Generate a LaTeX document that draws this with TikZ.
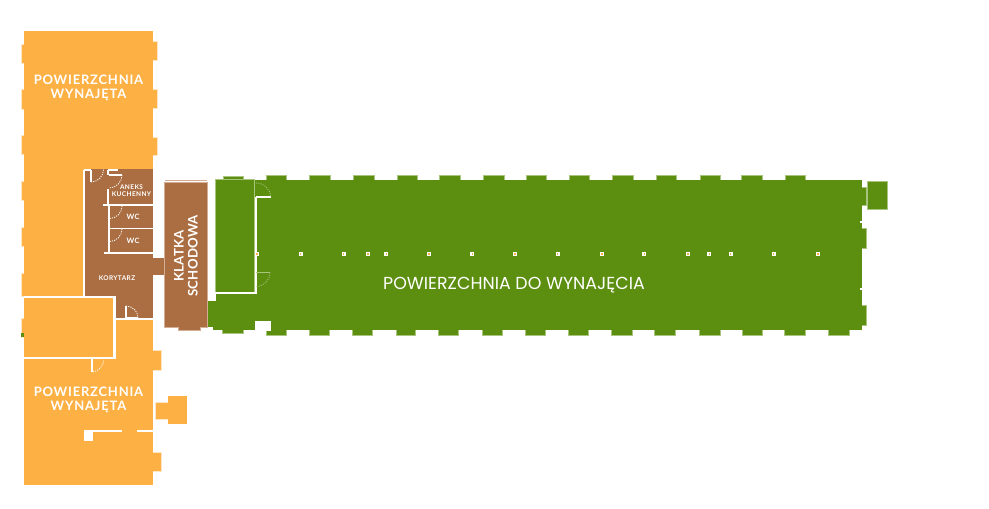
\documentclass[tikz,border=0pt]{standalone}
\usepackage{fontspec}
\setmainfont{Lato}
\newfontfamily\roomfont[LetterSpace=6]{Lato Bold}
\newfontfamily\stairfont[LetterSpace=2]{Lato Bold}
\newfontfamily\greenfont{Poppins}
\definecolor{rented}{HTML}{FDB043}
\definecolor{rentededge}{HTML}{FEE6C4}
\definecolor{corridor}{HTML}{AB6E42}
\definecolor{corridoredge}{HTML}{D3AE94}
\definecolor{vacant}{HTML}{5C8E10}
\definecolor{vacantedge}{HTML}{A9C47C}
\tikzset{
  wall/.style={white,line width=1.2pt},
  thinwall/.style={white,line width=0.6pt},
  swing/.style={white,line width=0.5pt,dash pattern=on 0.6pt off 0.7pt},
  vacantswing/.style={vacantedge,line width=0.5pt,dash pattern=on 0.6pt off 0.7pt},
  rentedtab/.style={fill=rented,draw=rentededge,line width=0.5pt},
  vacanttab/.style={fill=vacant,draw=vacantedge,line width=0.4pt}
}
\begin{document}
\begin{tikzpicture}[x=0.02cm,y=-0.02cm]
\useasboundingbox (0,0) rectangle (989,508);

% rented wing, tabs first
\foreach \a/\b in {44/63,89/109,135/154,181/200,227/246,273/296,318/337}
  \path [rentedtab] (21,\a) rectangle (30,\b);
\foreach \a/\b in {41/60,89/108,137/155}
  \path [rentedtab] (157,\a) rectangle (140,\b);
\foreach \a/\b in {350/370,452/471}
  \path [rentedtab] (161,\a) rectangle (140,\b);
\fill [vacant] (21,333) rectangle (24,337);
\fill [rented] (24,31) rectangle (153,485);
\path [rentedtab] (155,402) rectangle (170,419);
\fill [rented] (168,396) rectangle (187,424);

% corridor block
\fill [corridor] (84,169) rectangle (153,319);
\fill [corridor] (150,258) rectangle (167,275);
\path [fill=corridor,draw=corridoredge,line width=0.4pt] (164.5,182.5) -- (207.5,182.5) -- (207.5,327) -- (200,327) -- (200,330.5) -- (178,330.5) -- (178,327) -- (164.5,327) -- cycle;
\draw [corridoredge,line width=0.5pt] (165,180.5) -- (207,180.5);
\fill [rented] (24,297) rectangle (114.5,358);

% corridor walls
\draw [wall] (84,169.5) -- (84,297);
\draw [wall] (84,170) -- (91,170);
\draw [wall] (108,170) -- (118,170);
\draw [wall] (108,170) -- (108,175);
\draw [wall] (108,189) -- (108,205);
\draw [wall] (103,205) -- (153,205);
\draw [wall] (109,205) -- (109,253);
\draw [thinwall] (109,228.5) -- (153,228.5);
\draw [wall] (104,253) -- (153,253);
\draw [wall] (114.5,319) -- (153,319);
\draw [wall] (24,297) -- (114.5,297) -- (114.5,358) -- (24,358);
\draw [wall] (84,431) -- (122,431);
\draw [wall] (137,431) -- (153,431);
\fill [white] (84,431) rectangle (93,441);

% doors in the corridor block
\draw [thinwall] (91,170) -- (91,182);
\draw [swing] (91,182) arc (90:0:12.5);
\draw [thinwall] (108.5,175) -- (122,175);
\draw [swing] (122,175) arc (0:90:13);
\draw [thinwall] (109.5,206) -- (109.5,219);
\draw [swing] (122,206) arc (0:90:12.5);
\draw [thinwall] (109.5,229) -- (109.5,242);
\draw [swing] (122,229) arc (0:90:12.5);
\draw [thinwall] (126,318) -- (126,306);
\draw [thinwall] (126,318) -- (138,318);
\draw [swing] (126,306) arc (-90:0:12);
\draw [thinwall] (92,358) -- (92,372);
\draw [thinwall] (92,358) -- (104,358);
\draw [swing] (104,358) arc (0:90:12 and 14);

% vacant wing, tabs first
\foreach \a/\b in {266/286,309/330,353/374,397/417,439/460,483/504,526/546,569/589,612/633,656/676,700/720,741/762,785/805}
  \path [vacanttab] (\a,175.5) rectangle (\b,185);
\foreach \a/\b in {266/286,309/329,352/372,396/415,438/458,482/502,525/545,568/588,611/632,654/675,699/720,742/762,784/805,828/849}
  \path [vacanttab] (\a,335) rectangle (\b,325);
\foreach \a/\b in {187/205,228/248,305/325}
  \path [vacanttab] (866,\a) rectangle (855,\b);
\path [vacanttab] (223,176) rectangle (243,185);
\path [vacanttab] (222,333) rectangle (243,325);
\path [vacanttab] (867.5,181) rectangle (887,209);
\fill [vacant] (255,180) rectangle (862,330);
\fill [vacant] (216,179) rectangle (254,292);
\fill [vacant] (208,301) rectangle (257,327);
\fill [vacant] (216,292) rectangle (257,301);
\fill [vacant] (213,327) rectangle (270,330);
\fill [white] (255,321) rectangle (271,331);
\fill [white] (860,221) rectangle (862,223);
\fill [white] (860,288) rectangle (862,290);

% walls and doors of the vacant wing
\draw [vacantedge,line width=0.5pt] (215.5,292) -- (215.5,179) -- (254.5,179) -- (254.5,292);
\draw [wall] (256,197) -- (256,272.5);
\draw [wall] (256,272.5) -- (256,293) -- (215,293);
\draw [white,line width=0.6pt] (256,197) -- (271,197);
\draw [vacantedge,line width=0.7pt] (256,272.5) -- (270,272.5);
\draw [vacantswing] (256,183) arc (-90:0:14.5 and 14);
\draw [vacantswing] (270,272.5) arc (0:90:14);

% posts
\foreach \a in {257,300.7,343.7,368,386.3,429,472.3,515,557.7,602,644.3,688,709.3,730.7,773.7,818} {
  \fill [white] (\a-2,252) rectangle (\a+2,256);
  \fill [rented] (\a-0.7,253.3) rectangle (\a+0.7,254.7);
}

% labels
\path (88.5,87.5) node (rentedup) [align=center,text=white,inner sep=0pt,font=\roomfont\fontsize{7.4}{8}\selectfont] {POWIERZCHNIA\\WYNAJĘTA};
\path (88.5,399.5) node (renteddown) [align=center,text=white,inner sep=0pt,font=\roomfont\fontsize{7.4}{8}\selectfont] {POWIERZCHNIA\\WYNAJĘTA};
\path (131.5,190.7) node (kitchen) [align=center,text=white,inner sep=0pt,font=\roomfont\fontsize{3.7}{3.8}\selectfont] {ANEKS\\KUCHENNY};
\path (133,216.5) node (wcone) [text=white,inner sep=0pt,font=\roomfont\fontsize{4.2}{5}\selectfont] {WC};
\path (133,240.5) node (wctwo) [text=white,inner sep=0pt,font=\roomfont\fontsize{4.2}{5}\selectfont] {WC};
\path (117,278) node (hall) [text=white,inner sep=0pt,font=\roomfont\fontsize{3.7}{5}\selectfont] {KORYTARZ};
\path (186,256) node (stairs) [rotate=90,align=center,text=white,inner sep=0pt,font=\stairfont\fontsize{7.5}{8}\selectfont] {KLATKA\\SCHODOWA};
\path (514,285) node (vacantlabel) [text=white,inner sep=0pt,font=\greenfont\fontsize{9.9}{11}\selectfont] {POWIERZCHNIA DO WYNAJĘCIA};
\end{tikzpicture}
\end{document}
